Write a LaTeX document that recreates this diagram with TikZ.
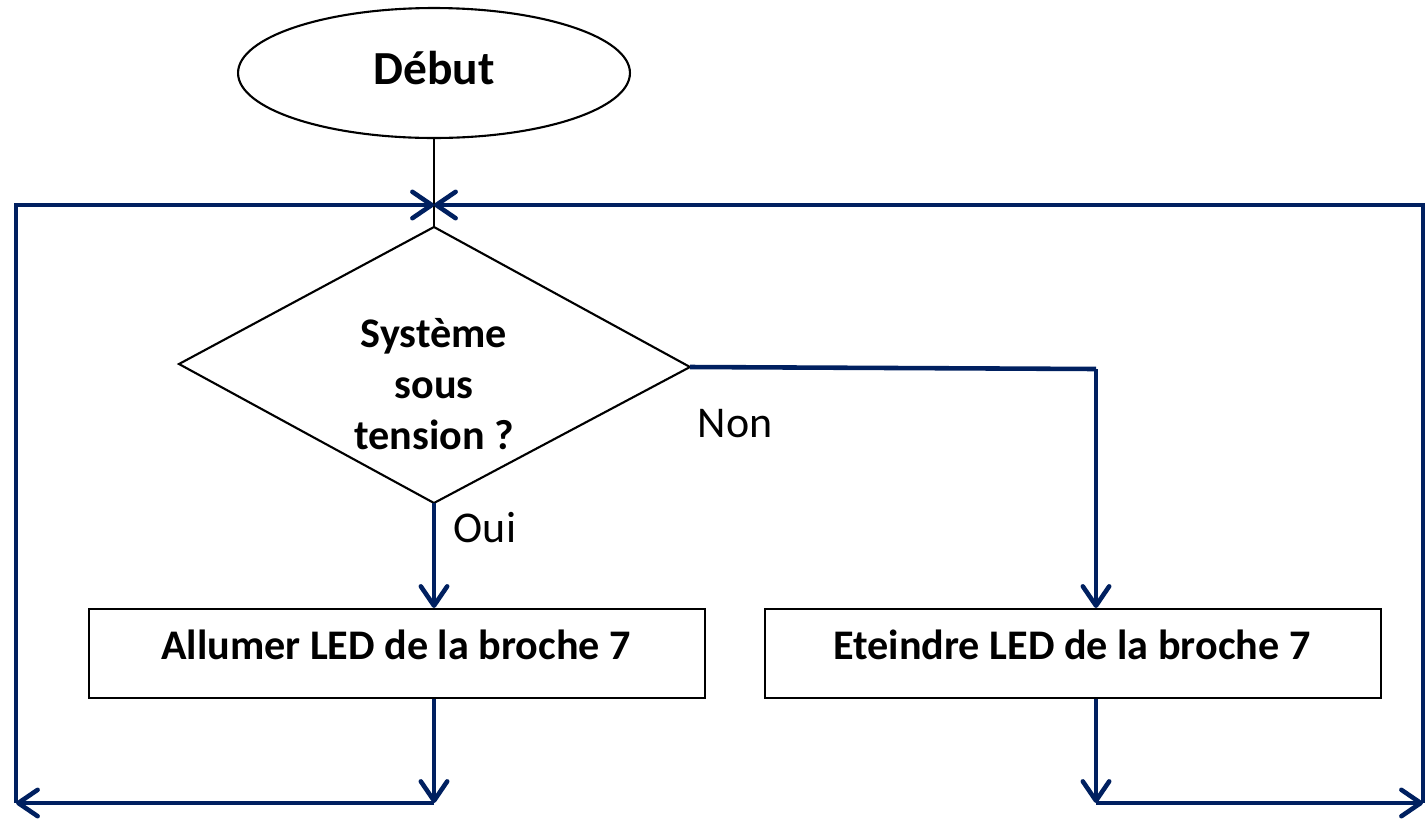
\documentclass[tikz,border=0pt]{standalone}
\usepackage{fontspec}
\setmainfont{Carlito}
\usetikzlibrary{arrows.meta,shapes.geometric}
\definecolor{navy}{RGB}{0,32,96}
\begin{document}
\begin{tikzpicture}[x=0.02cm,y=-0.02cm,
  blk/.style={draw=black,line width=1.2pt},
  flow/.style={draw=navy,line width=2.6pt},
  arr/.style={flow,-{Straight Barb[length=11pt,width=15pt,round]}},
  lbl/.style={font=\fontsize{24}{29}\selectfont\bfseries,align=center},
  txt/.style={font=\fontsize{25}{30}\selectfont}]
\useasboundingbox (0,0) rectangle (1427,819);
% Start
\draw[blk] (434,73) ellipse [x radius=3.92cm, y radius=1.3cm];
\node[font=\fontsize{27}{32}\selectfont\bfseries] (start) at (434,68) {Début};
\coordinate (sbot) at (434,138);
% Decision
\coordinate (dtop) at (434,227);
\coordinate (dleft) at (179,364);
\coordinate (dright) at (690,367);
\coordinate (dbot) at (434,503);
\draw[blk,line join=miter] (dtop) -- (dright) -- (dbot) -- (dleft) -- cycle;
\node[lbl] (dtext) at (434,384) {Système\\sous\\tension ?};
% Boxes
\node[blk,rectangle,minimum width=12.32cm,minimum height=1.78cm] (on) at (397,653.5) {};
\node[lbl] (ontext) at (396,645) {Allumer LED de la broche 7};
\node[blk,rectangle,minimum width=12.32cm,minimum height=1.78cm] (off) at (1073,653.5) {};
\node[lbl] (offtext) at (1072,645) {Eteindre LED de la broche 7};
% Junction
\coordinate (j) at (434,205);
\draw[blk] (sbot) -- (j) -- (dtop);
% Oui / Non
\draw[arr] (dbot) -- (on.north -| dbot);
\coordinate (nc) at (1096,369);
\draw[flow] (dright) -- (nc);
\draw[arr] (nc) -- (off.north -| nc);
\node[txt] (oui) at (485,528) {Oui};
\node[txt] (non) at (735,424) {Non};
% Return loops
\coordinate (lb) at (434,803);
\coordinate (lc) at (16,803);
\coordinate (lt) at (16,205);
\coordinate (rb) at (1096,803);
\coordinate (rc) at (1423,803);
\coordinate (rt) at (1423,205);
\draw[arr] (on.south -| lb) -- (lb);
\draw[arr] (lb) -- (lc);
\draw[arr,line join=miter] (lc) -- (lt) -- (j);
\draw[arr] (off.south -| rb) -- (rb);
\draw[arr] (rb) -- (rc);
\draw[arr,line join=miter] (rc) -- (rt) -- (j);
\end{tikzpicture}
\end{document}
